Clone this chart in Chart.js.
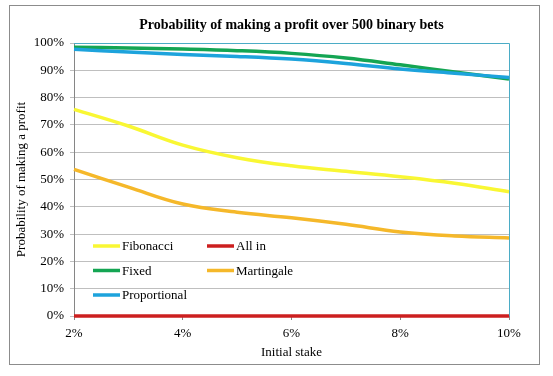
<!DOCTYPE html>
<html>
<head>
<meta charset="utf-8">
<script src="https://cdn.jsdelivr.net/npm/chart.js@4.4.1/dist/chart.umd.min.js"></script>
<style>
  html,body{margin:0;padding:0;background:#fff;}
  #wrap{width:553px;height:376px;position:relative;}
</style>
</head>
<body>
<div id="wrap"><canvas id="probChart"></canvas></div>
<script>
const stakes = [2,3,4,5,6,7,8,9,10];
const fibonacci = [75.7,69.6,62.6,58.0,55.0,53.0,51.0,48.6,45.5];
const allIn = [0,0,0,0,0,0,0,0,0];
const fixed = [98.4,98.2,97.8,97.2,96.2,94.5,92.0,89.4,86.8];
const martingale = [53.7,47.2,41.0,38.0,36.0,33.6,30.8,29.3,28.6];
const proportional = [97.7,96.7,95.8,95.1,94.1,92.5,90.5,88.9,87.4];
const yTicks = [0,10,20,30,40,50,60,70,80,90,100];

const SERIF = "'Liberation Serif','Times New Roman',serif";

function pts(vals){ return stakes.map((s,i)=>({x:s,y:vals[i]})); }

function ds(label,vals,color,order){
  return {
    label:label,
    data:pts(vals),
    borderColor:color,
    backgroundColor:color,
    borderWidth:3.5,
    pointRadius:0,
    tension:0.4,
    clip:false,
    order:order
  };
}

const frame = {
  id:"frame",
  beforeDraw(c){
    const g=c.ctx;
    g.save();
    g.strokeStyle="#8c8c8c";
    g.lineWidth=1;
    g.strokeRect(9.5,5.5,530,359);
    g.restore();
  },
  beforeDatasetsDraw(c){
    const a=c.chartArea, g=c.ctx;
    g.save();
    g.strokeStyle="#4bacc6";
    g.lineWidth=1;
    g.beginPath();
    g.moveTo(a.left,a.top+0.5);
    g.lineTo(a.right+0.5,a.top+0.5);
    g.lineTo(a.right+0.5,a.bottom);
    g.stroke();
    g.restore();
  },
  afterDraw(c){
    const a=c.chartArea, g=c.ctx;
    g.save();
    g.fillStyle="#000";
    g.font="bold 14px "+SERIF;
    g.textAlign="center";
    g.textBaseline="middle";
    g.fillText("Probability of making a profit over 500 binary bets",(a.left+a.right)/2,25);
    // legend
    const items=["Fibonacci","All in","Fixed","Martingale","Proportional"];
    g.font="13px "+SERIF;
    g.textAlign="left";
    items.forEach((name,i)=>{
      const d=c.data.datasets.find(x=>x.label===name);
      const col=i%2, row=Math.floor(i/2);
      const x0=a.left+19+col*114;
      const y0=a.bottom-70+row*24.5;
      g.strokeStyle=d.borderColor;
      g.lineWidth=3.5;
      g.beginPath();
      g.moveTo(x0,y0);
      g.lineTo(x0+27,y0);
      g.stroke();
      g.fillText(name,x0+29,y0+1);
    });
    g.restore();
  }
};

new Chart(document.getElementById("probChart"),{
  type:"line",
  data:{
    datasets:[
      ds("Fibonacci",fibonacci,"#f9f733",5),
      ds("All in",allIn,"#cc1f1f",0),
      ds("Fixed",fixed,"#14a553",4),
      ds("Martingale",martingale,"#f5b82a",3),
      ds("Proportional",proportional,"#1da3dc",2)
    ]
  },
  options:{
    responsive:true,
    maintainAspectRatio:false,
    animation:false,
    layout:{padding:{left:10,top:43,right:44,bottom:12}},
    plugins:{legend:{display:false},title:{display:false},tooltip:{enabled:false}},
    scales:{
      x:{
        type:"linear",
        min:2,max:10,
        afterFit(s){ s.height=48; },
        afterBuildTicks(s){ s.ticks=[2,4,6,8,10].map(v=>({value:v})); },
        ticks:{color:"#000",font:{family:SERIF,size:13},padding:6,maxRotation:0,
          callback:v=>v+"%"},
        grid:{display:true,drawOnChartArea:false,color:"#868686",tickLength:4},
        border:{color:"#868686"},
        title:{display:true,text:"Initial stake",color:"#000",font:{family:SERIF,size:13},padding:{top:2}}
      },
      y:{
        min:0,max:100,
        afterFit(s){ s.width=64; },
        afterBuildTicks(s){ s.ticks=yTicks.map(v=>({value:v})); },
        ticks:{color:"#000",font:{family:SERIF,size:13},padding:6,callback:v=>v+"%"},
        grid:{color:"#bfbfbf",tickLength:4},
        border:{color:"#868686"},
        title:{display:true,text:"Probability of making a profit",color:"#000",font:{family:SERIF,size:13},padding:{bottom:4}}
      }
    }
  },
  plugins:[frame]
});
</script>
</body>
</html>
